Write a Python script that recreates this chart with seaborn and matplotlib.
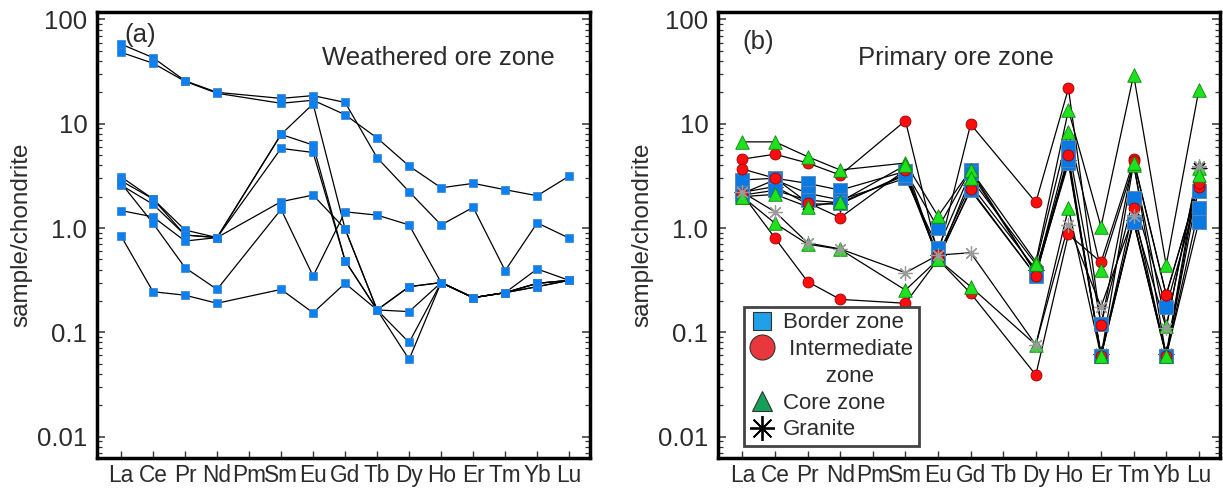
import numpy as np
import pandas as pd
import matplotlib
matplotlib.use("Agg")
import matplotlib.pyplot as plt
import seaborn as sns
from matplotlib.ticker import FixedLocator, LogLocator, NullFormatter, FixedFormatter
from matplotlib.lines import Line2D

nan = np.nan

# ---------------- data ----------------
ELEMENTS = ["La", "Ce", "Pr", "Nd", "Pm", "Sm", "Eu", "Gd", "Tb", "Dy", "Ho", "Er", "Tm", "Yb", "Lu"]
YTICKS = [0.01, 0.1, 1.0, 10, 100]
YTICK_LABELS = ["0.01", "0.1", "1.0", "10", "100"]

# (a) Weathered ore zone
A1 = [58.0, 43.0, 25.8, 20.0, nan, 17.5, 18.6, 16.0, 4.72, 2.23, 1.07, 1.58, 0.39, 1.12, 0.80]
A2 = [48.4, 38.0, 25.5, 19.6, nan, 15.7, 16.8, 12.2, 7.3, 3.93, 2.43, 2.68, 2.33, 2.04, 3.15]
A3 = [3.10, 1.90, 0.957, 0.81, nan, 7.9, 15.5, 0.98, 0.164, 0.055, 0.30, 0.215, 0.24, 0.274, 0.315]
A4 = [2.84, 1.90, 0.857, 0.81, nan, 7.9, 6.25, 0.486, 0.164, 0.080, 0.30, 0.215, 0.24, 0.295, 0.315]
A5 = [2.58, 1.69, 0.857, 0.81, nan, 5.8, 5.3, 0.486, 0.164, 0.158, 0.30, 0.215, 0.24, 0.295, 0.315]
A6 = [1.47, 1.28, 0.75, 0.81, nan, 1.79, 2.07, 0.98, 0.164, 0.274, 0.30, 0.215, 0.24, 0.274, 0.315]
A7 = [2.70, 1.11, 0.417, 0.258, nan, 1.51, 0.346, 1.43, 1.33, 1.07, 0.30, 0.215, 0.24, 0.405, 0.315]
A8 = [0.84, 0.245, 0.227, 0.19, nan, 0.258, 0.154, 0.295, 0.164, 0.274, 0.30, 0.215, 0.24, 0.295, 0.315]

# (b) Primary ore zone
BORDER_1 = [2.89, 3.0, 2.68, 2.31, nan, 3.5, 1.00, 3.6, nan, 0.37, 6.0, 0.12, 1.93, 0.176, 2.28]
BORDER_2 = [2.15, 2.9, 2.15, 1.86, nan, 3.0, 0.64, 3.4, nan, 0.37, 4.17, 0.059, 1.15, 0.059, 1.54]
BORDER_3 = [2.07, 2.3, 1.85, 1.75, nan, 3.2, 0.52, 2.3, nan, 0.35, 4.5, 0.059, 1.15, 0.059, 1.15]
INTER_1 = [4.58, 5.1, 4.2, 3.22, nan, 10.7, 0.55, 9.9, nan, 1.76, 21.8, 0.117, 4.55, 0.228, 2.68]
INTER_2 = [3.68, 3.0, 1.75, 1.26, nan, 3.6, 0.50, 2.37, nan, 0.35, 5.0, 0.059, 1.54, 0.059, 2.5]
INTER_3 = [2.10, 0.80, 0.306, 0.207, nan, 0.19, 0.50, 0.237, nan, 0.039, 0.87, 0.47, 4.4, 0.228, 2.68]
CORE_1 = [6.7, 6.7, 4.83, 3.6, nan, 4.2, 1.30, 3.6, nan, 0.475, 13.5, 1.03, 29.4, 0.44, 21.0]
CORE_2 = [2.0, 2.1, 1.6, 1.79, nan, 4.0, 0.50, 3.0, nan, 0.45, 8.4, 0.40, 4.0, 0.114, 3.73]
CORE_3 = [2.0, 1.11, 0.70, 0.625, nan, 0.254, 0.50, 0.274, nan, 0.0757, 1.54, 0.059, 4.2, 0.059, 3.2]
GRANITE_1 = [2.2, 1.43, 0.72, 0.63, nan, 0.373, 0.55, 0.58, nan, 0.0757, 1.07, 0.176, 1.3, 0.11, 3.96]
GRANITE_2 = [2.2, 2.5, 1.7, 1.7, nan, 3.3, 0.55, 2.6, nan, 0.40, 4.5, 0.062, 1.2, 0.062, 3.8]

SAMPLES_A = {"A1": A1, "A2": A2, "A3": A3, "A4": A4, "A5": A5, "A6": A6, "A7": A7, "A8": A8}
SAMPLES_B = {
    ("B1", "Border zone"): BORDER_1, ("B2", "Border zone"): BORDER_2, ("B3", "Border zone"): BORDER_3,
    ("I1", "Intermediate zone"): INTER_1, ("I2", "Intermediate zone"): INTER_2, ("I3", "Intermediate zone"): INTER_3,
    ("C1", "Core zone"): CORE_1, ("C2", "Core zone"): CORE_2, ("C3", "Core zone"): CORE_3,
    ("G1", "Granite"): GRANITE_1, ("G2", "Granite"): GRANITE_2,
}


def to_long(samples):
    rows = []
    for key, vals in samples.items():
        name, zone = key if isinstance(key, tuple) else (key, "Weathered")
        for i, v in enumerate(vals):
            if not np.isnan(v):
                rows.append({"x": i, "element": ELEMENTS[i], "value": v, "sample": name, "zone": zone})
    return pd.DataFrame(rows)


dfA = to_long(SAMPLES_A)
dfB = to_long(SAMPLES_B)

# ---------------- style ----------------
sns.set_theme(style="white")
plt.rcParams["font.family"] = ["Liberation Sans", "DejaVu Sans"]
TXT = "#2b2b2b"

W, H = 1223, 488
fig = plt.figure(figsize=(W / 100, H / 100), dpi=100)
axA = fig.add_axes([97 / W, 30 / H, 493 / W, 446 / H])
axB = fig.add_axes([718 / W, 30 / H, 502 / W, 446 / H])


def style_axis(ax):
    ax.set_yscale("log")
    ax.set_ylim(0.00624, 117.8)
    ax.set_xlim(-0.75, 14.65)
    ax.set_facecolor("white")
    for sp in ax.spines.values():
        sp.set_visible(True)
        sp.set_color("black")
        sp.set_linewidth(2.5)
    ax.yaxis.set_major_locator(FixedLocator(YTICKS))
    ax.yaxis.set_major_formatter(FixedFormatter(YTICK_LABELS))
    ax.yaxis.set_minor_locator(LogLocator(base=10, subs=np.arange(2, 10), numticks=20))
    ax.yaxis.set_minor_formatter(NullFormatter())
    ax.xaxis.set_major_locator(FixedLocator(range(len(ELEMENTS))))
    ax.set_xticklabels(ELEMENTS)
    ax.tick_params(axis="y", which="major", direction="in", length=6, width=1.1,
                   left=True, right=True, labelsize=18.5, pad=7, labelcolor=TXT, color="#333")
    ax.tick_params(axis="y", which="minor", direction="in", length=3.5, width=0.9,
                   left=True, right=True, color="#333")
    ax.tick_params(axis="x", which="major", direction="in", length=5, width=1.0,
                   bottom=True, top=False, labelsize=16.3, pad=4, labelcolor=TXT, color="#333")
    ax.grid(False)


style_axis(axA)
style_axis(axB)

# ---------------- panel (a) ----------------
sns.lineplot(data=dfA, x="x", y="value", units="sample", estimator=None, sort=False,
             color="black", linewidth=0.9, legend=False, ax=axA, zorder=2)
sns.scatterplot(data=dfA, x="x", y="value", marker="s", s=34, color="#0b80f2",
                edgecolor="#3d7fc4", linewidth=0.5, legend=False, ax=axA, zorder=3)
axA.text(0.087, 0.948, "(a)", transform=axA.transAxes, fontsize=18.5, color=TXT,
         ha="center", va="center")
axA.text(0.692, 0.897, "Weathered ore zone", transform=axA.transAxes, fontsize=18.5,
         color=TXT, ha="center", va="center")
axA.set_xlabel("")
axA.set_ylabel("sample/chondrite", fontsize=17.5, color=TXT, labelpad=3)

# ---------------- panel (b) ----------------
sns.lineplot(data=dfB, x="x", y="value", units="sample", estimator=None, sort=False,
             color="black", linewidth=0.9, legend=False, ax=axB, zorder=2)

# dark granite sample sits underneath the zone markers
sns.scatterplot(data=dfB[dfB["sample"] == "G2"], x="x", y="value", marker=(8, 2, 0), s=110,
                color="#111111", linewidth=1.0, legend=False, ax=axB, zorder=2.5)
marker_styles = {
    "Border zone": dict(marker="s", s=105, color="#0a79e2", edgecolor="#5d86b0", linewidth=0.6),
    "Intermediate zone": dict(marker="o", s=62, color="#ff0d0d", edgecolor="#9a0000", linewidth=0.6),
    "Core zone": dict(marker="^", s=95, color="#1fe21f", edgecolor="#0a850a", linewidth=0.6),
}
z = 3
for zone, kw in marker_styles.items():
    sns.scatterplot(data=dfB[dfB["zone"] == zone], x="x", y="value", legend=False, ax=axB,
                    zorder=z, **kw)
    z += 1
sns.scatterplot(data=dfB[dfB["sample"] == "G1"], x="x", y="value", marker=(8, 2, 0), s=100,
                color="#9a9a9a", linewidth=0.9, legend=False, ax=axB, zorder=z)

axB.text(0.080, 0.933, "(b)", transform=axB.transAxes, fontsize=18.5, color=TXT,
         ha="center", va="center")
axB.text(0.474, 0.897, "Primary ore zone", transform=axB.transAxes, fontsize=18.5,
         color=TXT, ha="center", va="center")
axB.set_xlabel("")
axB.set_ylabel("sample/chondrite", fontsize=17.5, color=TXT, labelpad=3)

handles = [
    Line2D([], [], ls="none", marker="s", markersize=13, markerfacecolor="#1fa0e8",
           markeredgecolor="#333", markeredgewidth=0.8),
    Line2D([], [], ls="none", marker="o", markersize=18, markerfacecolor="#e8383e",
           markeredgecolor="#333", markeredgewidth=0.8),
    Line2D([], [], ls="none", marker=None),
    Line2D([], [], ls="none", marker="^", markersize=15, markerfacecolor="#15a058",
           markeredgecolor="#333", markeredgewidth=0.8),
    Line2D([], [], ls="none", marker=(8, 2, 0), markersize=18, color="black",
           markeredgewidth=1.3),
]
labels = ["Border zone", " Intermediate", "       zone", "Core zone", "Granite"]
leg = axB.legend(handles, labels, loc="lower left", bbox_to_anchor=(0.052, 0.027),
                 borderaxespad=0, fontsize=16, frameon=True, fancybox=False,
                 edgecolor="#444", labelspacing=0.26, handlelength=1.1, handletextpad=0.4,
                 borderpad=0.25, framealpha=1)
leg.get_frame().set_linewidth(2.0)
for t in leg.get_texts():
    t.set_color(TXT)

fig.savefig("out.png", dpi=100, facecolor="white")
